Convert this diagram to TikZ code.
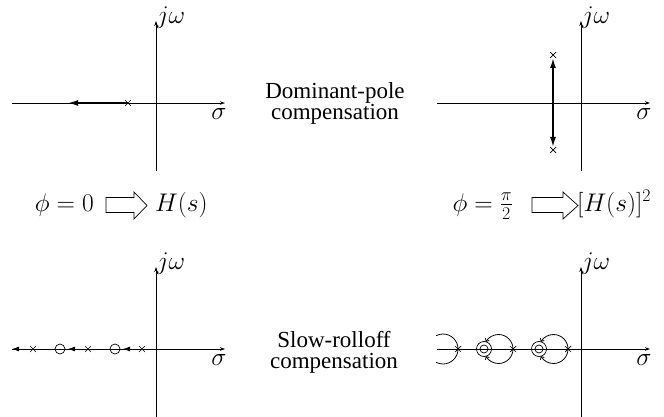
\RequirePackage{fix-cm}
\documentclass[tikz,border=0pt]{standalone}
\usepackage[no-math]{fontspec}
\newfontfamily\capfont{Liberation Serif}
\usetikzlibrary{arrows.meta,calc}
\tikzset{xmark/.pic={\draw[line width=0.7pt] (-3,-3)--(3,3) (-3,3)--(3,-3);}}
\newcommand{\hollowarrow}[3]{% tail, head base, tip
  \draw[line width=0.7pt] (#1,197.5) -- (#2,197.5) -- (#2,192) -- (#3,205.5)
    -- (#2,219) -- (#2,212.5) -- (#1,212.5) -- cycle;}

\begin{document}
\begin{tikzpicture}[x=1pt,y=-1pt,
  ax/.style={line width=0.8pt,-{Stealth[length=5pt,width=3.5pt]}},
  lc/.style={line width=1.6pt,-{Latex[length=10pt,width=6pt]}},
  lcs/.style={line width=0.8pt,-{Latex[length=7pt,width=5pt]}},
  br/.style={line width=0.8pt,-{To[length=3pt,width=5pt]}},
  zr/.style={circle,draw,line width=0.7pt,inner sep=0pt,minimum size=10pt},
  mth/.style={font=\fontsize{25.5}{30}\selectfont,inner sep=0pt},
  captxt/.style={font=\capfont\fontsize{23}{21}\selectfont,align=center}]
\useasboundingbox (0,0) rectangle (664,417);
% the four s-planes
\foreach \n/\ox/\oy in {1/156/103,2/581/103,3/156/349,4/581/349}{
  \coordinate (o\n) at (\ox,\oy);
  \coordinate (w\n) at (\ox-144,\oy);
  \coordinate (e\n) at (\ox+69,\oy);
  \coordinate (n\n) at (\ox,\oy-82);
  \coordinate (s\n) at (\ox,\oy+68);
  \draw[ax] (w\n) -- (e\n);
  \draw[ax] (s\n) -- (n\n);
  \node[mth] (jw\n) at (\ox+15,\oy-85) {$j\omega$};
  \node[mth] (sg\n) at (\ox+63,\oy+11) {$\sigma$};
}
% dominant pole, phi = 0
\coordinate (p1) at (128,103);
\coordinate (t1) at (68,103);
\draw[lc] (p1) -- (t1);
\pic at (p1) {xmark};
% dominant pole, phi = pi/2
\coordinate (m2) at (553,103);
\coordinate (p2a) at (553,55);
\coordinate (p2b) at (553,150);
\coordinate (t2a) at (553,58);
\coordinate (t2b) at (553,147);
\draw[lc] (m2) -- (t2a);
\draw[lc] (m2) -- (t2b);
\pic at (p2a) {xmark};
\pic at (p2b) {xmark};
% slow rolloff, phi = 0
\node[zr] (z3a) at (60,349) {};
\node[zr] (z3b) at (115,349) {};
\coordinate (p3a) at (33,349);
\coordinate (p3b) at (88,349);
\coordinate (p3c) at (142,349);
\coordinate (t3a) at (12,349);
\coordinate (t3b) at (68,349);
\coordinate (t3c) at (123,349);
\draw[lcs] (p3a) -- (t3a);
\draw[lcs] (p3b) -- (t3b);
\draw[lcs] (p3c) -- (t3c);
\foreach \p in {p3a,p3b,p3c} \pic at (\p) {xmark};
% slow rolloff, phi = pi/2
\node[zr,minimum size=15pt] (z4a) at (484,349) {};
\node[zr,minimum size=8pt] (z4ai) at (z4a) {};
\node[zr,minimum size=15pt] (z4b) at (539,349) {};
\node[zr,minimum size=8pt] (z4bi) at (z4b) {};
\coordinate (p4a) at (458,349);
\coordinate (p4b) at (513,349);
\coordinate (p4c) at (568,349);
\draw[line width=0.8pt] (p4a) arc[start angle=0,end angle=118,radius=15];
\draw[line width=0.8pt] (p4a) arc[start angle=0,end angle=-118,radius=15];
\foreach \p in {p4b,p4c}{
  \draw[br] (\p) arc[start angle=0,end angle=150,radius=14.5];
  \draw[br] (\p) arc[start angle=0,end angle=-150,radius=14.5];
}
\foreach \p in {p4a,p4b,p4c} \pic at (\p) {xmark};
% labels
\node[captxt] (dom) at (335,103.5) {Dominant-pole\\compensation};
\node[captxt] (slow) at (334,352) {Slow-rolloff\\compensation};
\node[mth,anchor=base east] (f0) at (94,211) {$\phi=0$};
\hollowarrow{106}{134}{147}
\node[mth,anchor=base west] (h1) at (155,211) {$H(s)$};
\node[mth,anchor=base east] (f1) at (513,211) {$\phi=\frac{\pi}{2}$};
\hollowarrow{532}{563}{578}
\node[mth,anchor=base west] (h2) at (577,211) {$[H(s)]^2$};
\end{tikzpicture}
\end{document}
